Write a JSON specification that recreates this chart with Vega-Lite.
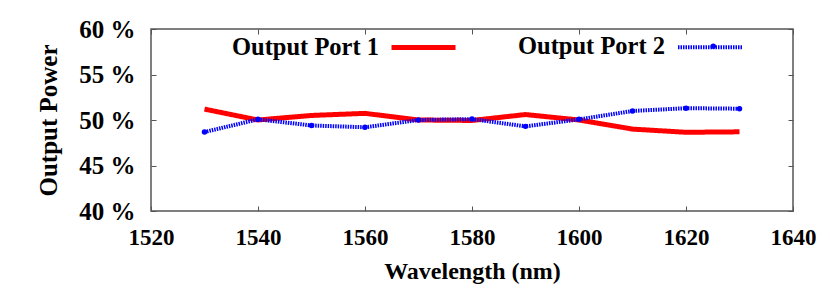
{
  "$schema": "https://vega.github.io/schema/vega-lite/v6.json",
  "width": 642,
  "height": 182,
  "autosize": {"type": "none"},
  "padding": {"left": 151, "top": 29, "right": 37, "bottom": 80},
  "background": "white",
  "config": {
    "view": {"stroke": "#555", "strokeWidth": 1.5},
    "font": "Liberation Serif",
    "axis": {
      "labelFont": "Liberation Serif",
      "labelFontWeight": "bold",
      "labelFontSize": 23,
      "labelColor": "black",
      "labelFlush": false,
      "titleFont": "Liberation Serif",
      "titleFontWeight": "bold",
      "titleFontSize": 24,
      "titleColor": "black",
      "tickSize": -5,
      "tickColor": "#555",
      "tickWidth": 1,
      "domain": false,
      "grid": false
    },
    "legend": {
      "labelFont": "Liberation Serif",
      "labelFontWeight": "bold",
      "labelFontSize": 24.5,
      "labelColor": "black"
    }
  },
  "data": {
    "values": [
      {"wl": 1530, "series": "Output Port 1", "power": 51.2},
      {"wl": 1540, "series": "Output Port 1", "power": 50.0},
      {"wl": 1550, "series": "Output Port 1", "power": 50.5},
      {"wl": 1560, "series": "Output Port 1", "power": 50.73},
      {"wl": 1570, "series": "Output Port 1", "power": 50.0},
      {"wl": 1580, "series": "Output Port 1", "power": 49.95},
      {"wl": 1590, "series": "Output Port 1", "power": 50.6},
      {"wl": 1600, "series": "Output Port 1", "power": 50.0},
      {"wl": 1610, "series": "Output Port 1", "power": 49.0},
      {"wl": 1620, "series": "Output Port 1", "power": 48.65},
      {"wl": 1630, "series": "Output Port 1", "power": 48.7},
      {"wl": 1530, "series": "Output Port 2", "power": 48.68},
      {"wl": 1540, "series": "Output Port 2", "power": 50.07},
      {"wl": 1550, "series": "Output Port 2", "power": 49.4},
      {"wl": 1560, "series": "Output Port 2", "power": 49.2},
      {"wl": 1570, "series": "Output Port 2", "power": 50.0},
      {"wl": 1580, "series": "Output Port 2", "power": 50.1},
      {"wl": 1590, "series": "Output Port 2", "power": 49.3},
      {"wl": 1600, "series": "Output Port 2", "power": 50.07},
      {"wl": 1610, "series": "Output Port 2", "power": 50.99},
      {"wl": 1620, "series": "Output Port 2", "power": 51.3},
      {"wl": 1630, "series": "Output Port 2", "power": 51.24}
    ]
  },
  "layer": [
    {
      "mark": {"type": "line"},
      "encoding": {
        "x": {
          "field": "wl", "type": "quantitative",
          "scale": {"domain": [1520, 1640], "nice": false, "zero": false},
          "axis": {"title": "Wavelength (nm)", "format": "d", "values": [1520, 1540, 1560, 1580, 1600, 1620, 1640], "labelPadding": 20, "labelDx": 3, "titlePadding": 10}
        },
        "y": {
          "field": "power", "type": "quantitative",
          "scale": {"domain": [40, 60], "nice": false, "zero": false},
          "axis": {"title": "Output Power", "values": [40, 45, 50, 55, 60], "labelExpr": "datum.value + ' %'", "labelFontSize": 25, "titleFontSize": 25, "labelPadding": 21, "titlePadding": 17}
        },
        "color": {
          "field": "series", "type": "nominal",
          "scale": {"domain": ["Output Port 1", "Output Port 2"], "range": ["#ff0000", "#0000ff"]},
          "legend": {
            "title": null,
            "orient": "none",
            "legendX": 238,
            "legendY": -16,
            "direction": "horizontal",
            "symbolType": "stroke",
            "symbolSize": 4096,
            "symbolStrokeWidth": 5,
            "labelAlign": "right",
            "labelOffset": -79,
            "columnPadding": 52
          }
        },
        "strokeDash": {
          "field": "series", "type": "nominal",
          "scale": {"domain": ["Output Port 1", "Output Port 2"], "range": [[1, 0], [1.5, 1]]},
          "legend": null
        },
        "strokeWidth": {
          "field": "series", "type": "nominal",
          "scale": {"domain": ["Output Port 1", "Output Port 2"], "range": [5, 4]},
          "legend": null
        }
      }
    },
    {
      "transform": [{"filter": "datum.series === 'Output Port 2'"}],
      "mark": {"type": "point", "filled": true, "size": 30, "color": "#0000ff", "opacity": 1},
      "encoding": {
        "x": {
          "field": "wl", "type": "quantitative",
          "scale": {"domain": [1520, 1640], "nice": false, "zero": false},
          "axis": {"orient": "top", "labels": false, "title": null, "values": [1520, 1540, 1560, 1580, 1600, 1620, 1640]}
        },
        "y": {
          "field": "power", "type": "quantitative",
          "scale": {"domain": [40, 60], "nice": false, "zero": false},
          "axis": {"orient": "right", "labels": false, "title": null, "values": [40, 45, 50, 55, 60]}
        },
        "shape": {
          "field": "series", "type": "nominal",
          "scale": {"domain": ["Output Port 2"], "range": ["circle"]},
          "legend": {
            "title": null,
            "orient": "none",
            "legendX": 550,
            "legendY": 5,
            "symbolSize": 30,
            "symbolFillColor": "#0000ff",
            "symbolStrokeColor": "#0000ff",
            "symbolStrokeWidth": 0,
            "labelExpr": "''",
            "padding": 0
          }
        }
      }
    }
  ],
  "resolve": {"scale": {"x": "independent", "y": "independent"}}
}
